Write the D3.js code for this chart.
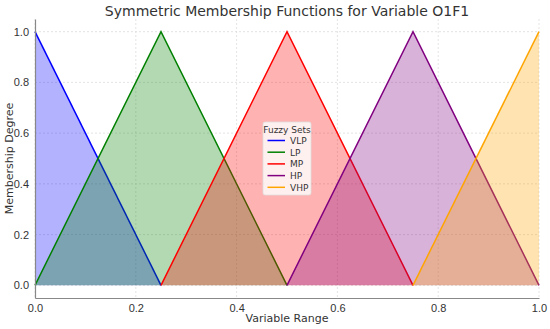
<!DOCTYPE html>
<html>
<head>
<meta charset="utf-8">
<script src="https://cdn.jsdelivr.net/npm/d3@7"></script>
<style>
  body { margin: 0; background: #fff; }
  svg { font-family: "DejaVu Sans", sans-serif; }
</style>
</head>
<body>
<div id="chart"></div>
<script>
// Fuzzy set data
const setNames = ["VLP", "LP", "MP", "HP", "VHP"];
const setColors = ["blue", "green", "red", "purple", "orange"];
// triangle vertices [left, peak, right]
const setPoints = [
    [0.0, 0.0, 0.25],
    [0.0, 0.25, 0.5],
    [0.25, 0.5, 0.75],
    [0.5, 0.75, 1.0],
    [0.75, 1.0, 1.0]
];
const xTicks = [0.0, 0.2, 0.4, 0.6, 0.8, 1.0];
const yTicks = [0.0, 0.2, 0.4, 0.6, 0.8, 1.0];

const W = 550, H = 329;
const svg = d3.select('#chart').append('svg')
    .attr('width', W)
    .attr('height', H);

const x = d3.scaleLinear().domain([0, 1]).range([35, 539]);
const y = d3.scaleLinear().domain([-0.05, 1.05]).range([298, 19]);

// grid
svg.append('g')
    .selectAll('line')
    .data(xTicks)
    .enter().append('line')
    .attr('x1', d => x(d)).attr('x2', d => x(d))
    .attr('y1', y(1.05)).attr('y2', y(-0.05))
    .attr('stroke', '#ddd').attr('stroke-dasharray', '2,2').attr('stroke-width', 0.8);
svg.append('g')
    .selectAll('line')
    .data(yTicks)
    .enter().append('line')
    .attr('x1', x(0)).attr('x2', x(1))
    .attr('y1', d => y(d)).attr('y2', d => y(d))
    .attr('stroke', '#ddd').attr('stroke-dasharray', '2,2').attr('stroke-width', 0.8);

// membership shapes: value at each vertex
function shape(p, i) {
    const ys = [i === 0 ? 1 : 0, 1, i === setPoints.length - 1 ? 1 : 0];
    return p.map((v, k) => [v, ys[k]]);
}

const area = d3.area().x(d => x(d[0])).y0(y(0)).y1(d => y(d[1]));
const line = d3.line().x(d => x(d[0])).y(d => y(d[1]));

setPoints.forEach((p, i) => {
    const pts = shape(p, i);
    svg.append('path')
        .attr('d', line(pts))
        .attr('fill', 'none')
        .attr('stroke', setColors[i])
        .attr('stroke-width', 1.5);
    svg.append('path')
        .attr('d', area(pts))
        .attr('fill', setColors[i])
        .attr('fill-opacity', 0.3);
});

// axes
const xAxis = svg.append('g')
    .attr('transform', `translate(0,${y(-0.05)})`)
    .call(d3.axisBottom(x).tickValues(xTicks).tickFormat(d3.format('.1f')).tickSize(0).tickPadding(6));
const yAxis = svg.append('g')
    .attr('transform', `translate(${x(0)},0)`)
    .call(d3.axisLeft(y).tickValues(yTicks).tickFormat(d3.format('.1f')).tickSize(0).tickPadding(6));
[xAxis, yAxis].forEach(a => {
    a.select('.domain').attr('stroke', '#888').attr('stroke-width', 1.2);
    a.selectAll('text').attr('fill', '#333').style('font-size', '11px');
});

// titles
svg.append('text')
    .attr('x', 287).attr('y', 16)
    .attr('text-anchor', 'middle')
    .attr('fill', '#333')
    .style('font-size', '14px')
    .text('Symmetric Membership Functions for Variable O1F1');
svg.append('text')
    .attr('x', 287).attr('y', 322)
    .attr('text-anchor', 'middle')
    .attr('fill', '#333')
    .style('font-size', '11px')
    .text('Variable Range');
svg.append('text')
    .attr('transform', `translate(13,${(y(1.05) + y(-0.05)) / 2}) rotate(-90)`)
    .attr('text-anchor', 'middle')
    .attr('fill', '#333')
    .style('font-size', '11px')
    .text('Membership Degree');

// legend
const lg = svg.append('g').attr('transform', 'translate(263,122)');
lg.append('rect')
    .attr('width', 48).attr('height', 73).attr('rx', 2)
    .attr('fill', 'white').attr('fill-opacity', 0.8)
    .attr('stroke', '#ddd').attr('stroke-width', 0.8);
lg.append('text')
    .attr('x', 24).attr('y', 10.5)
    .attr('text-anchor', 'middle')
    .attr('fill', '#333')
    .style('font-size', '9px')
    .text('Fuzzy Sets');
setNames.forEach((n, i) => {
    const yy = 18.5 + i * 11.7;
    lg.append('line')
        .attr('x1', 4.5).attr('x2', 22)
        .attr('y1', yy).attr('y2', yy)
        .attr('stroke', setColors[i]).attr('stroke-width', 1.5);
    lg.append('text')
        .attr('x', 27).attr('y', yy + 3.3)
        .attr('fill', '#333')
        .style('font-size', '9px')
        .text(n);
});
</script>
</body>
</html>
